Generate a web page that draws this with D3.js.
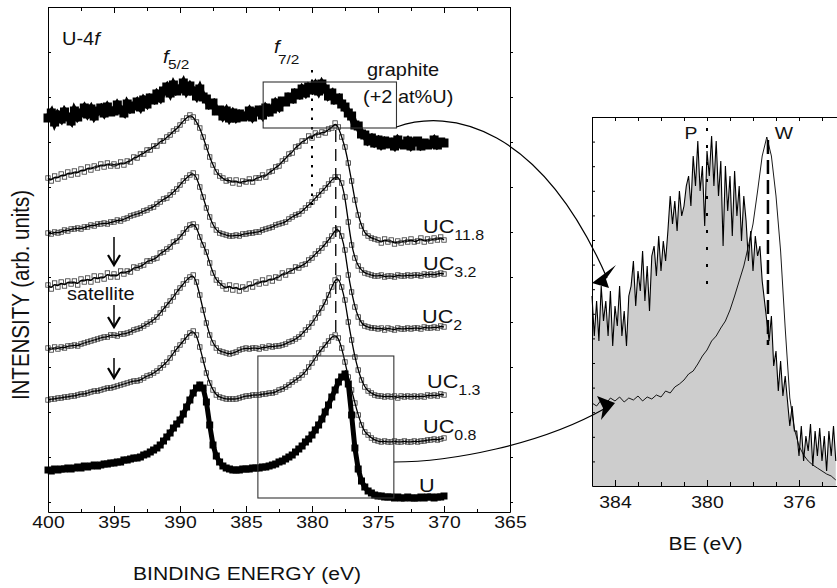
<!DOCTYPE html>
<html>
<head>
<meta charset="utf-8">
<title>U-4f spectra</title>
<script src="https://cdn.jsdelivr.net/npm/d3@7"></script>
<style>
    body { margin: 0; background: #ffffff; }
    svg { display: block; font-family: "Liberation Sans", Arial, sans-serif; }
</style>
</head>
<body>
<svg id="chart" width="837" height="588"></svg>
<script>
// Data //
// main panel: binding energy 400 -> 370 eV, one point every 0.25 eV
const energy = d3.range(121).map(i => 400 - i * 0.25)

// intensities in arb. units (stack offsets included), four points per eV
const graphite = [
    394,399,390,397, 393,400,395,391, 401,395,399,404, 398,403,396,401, 404,399,405,400,
    401,407,402,399, 408,403,406,410, 405,412,408,414, 412,418,414,421, 425,419,427,421,
    423,429,421,426, 421,416,423,415, 413,407,409,401, 402,396,401,394, 399,394,398,395,
    396,401,395,400, 402,397,404,400, 403,409,405,411, 410,415,413,419, 417,423,419,425,
    422,427,421,428, 423,416,419,412, 414,408,405,399, 396,387,386,378, 377,371,374,369,
    372,367,371,368, 370,366,372,368, 367,371,366,370, 371,366,369,367, 368,372,367,370,
    369]

const uc118 = [
    334,331,336,333, 338,335,340,337, 341,338,343,340, 345,342,346,344, 348,345,349,346,
    348,346,350,347, 351,350,355,354, 358,358,362,362, 366,366,371,371, 375,377,381,383,
    387,391,394,397, 395,390,384,375, 365,355,347,340, 336,334,331,332, 329,332,328,331,
    330,333,330,334, 334,337,335,340, 341,345,346,351, 353,358,359,365, 366,371,371,376,
    374,379,377,380, 379,383,384,389, 385,375,365,349, 331,312,297,286, 279,276,274,273,
    272,269,273,270, 272,268,271,269, 272,270,273,270, 271,274,270,273, 271,274,272,275,
    272]

const uc32 = [
    279,278,280,279, 280,282,281,283, 283,284,283,285, 285,287,286,288, 288,289,288,290,
    290,292,291,293, 294,296,297,298, 299,301,302,304, 305,308,310,313, 314,317,320,323,
    327,331,334,337, 339,335,325,315, 304,295,287,282, 279,278,277,276, 276,277,276,278,
    278,279,279,280, 280,282,283,284, 285,287,288,289, 290,293,295,297, 298,301,304,307,
    310,314,317,321, 324,328,332,335, 335,329,315,290, 267,254,246,242, 239,238,237,236,
    236,237,235,236, 236,235,237,236, 236,237,236,237, 237,236,238,237, 238,237,238,239,
    238]

const uc2 = [
    227,223,229,225, 230,226,231,228, 231,227,233,230, 234,230,236,232, 236,233,239,235,
    238,235,241,238, 241,240,245,244, 246,247,251,251, 253,254,259,260, 263,265,270,271,
    275,279,283,287, 288,285,275,267, 260,249,239,232, 229,226,223,227, 222,226,221,225,
    223,228,225,230, 228,232,229,234, 231,235,234,239, 237,241,241,245, 244,247,248,252,
    254,258,261,264, 268,272,276,282, 283,276,262,237, 220,205,195,189, 186,185,184,184,
    183,184,182,184, 183,182,184,183, 183,184,183,184, 184,183,185,184, 184,185,184,186,
    185]

const uc13 = [
    164,162,165,163, 165,164,166,166, 167,166,168,169, 170,171,172,173, 174,175,175,177,
    177,176,178,178, 179,180,182,183, 184,186,188,190, 192,195,199,203, 207,211,215,220,
    224,228,232,235, 237,230,217,202, 189,177,169,164, 161,160,159,158, 159,160,162,163,
    164,163,164,164, 163,165,164,166, 165,166,166,167, 168,170,171,173, 175,178,182,185,
    189,194,199,204, 210,217,225,232, 234,225,212,190, 172,155,142,132, 125,121,119,117,
    116,116,115,116, 115,116,114,116, 115,116,115,116, 115,116,115,117, 116,117,116,118,
    117]

const uc08 = [
    112,113,113,114, 114,115,115,116, 116,117,118,118, 119,120,121,121, 122,123,124,124,
    125,126,127,128, 129,130,131,131, 132,134,136,137, 139,141,144,147, 150,154,159,163,
    167,171,175,179, 181,177,165,152, 139,129,122,117, 115,114,113,113, 113,113,114,115,
    116,116,117,117, 117,118,118,119, 119,120,122,123, 125,127,130,132, 134,137,140,145,
    149,154,159,163, 167,171,175,177, 174,164,150,135, 122,109,97,87, 80,77,74,72,
    71,70,71,70, 70,71,70,70, 71,70,70,71, 70,71,71,72, 72,73,72,73,
    74]

const uMetal = [
    42,41,43,42, 43,43,44,43, 44,45,44,46, 45,46,47,46, 47,48,48,49,
    49,50,50,52, 52,53,54,54, 55,57,58,60, 62,64,67,71, 75,79,84,88,
    92,98,105,112, 119,124,127,124, 110,87,67,56, 50,46,44,43, 42,42,42,43,
    43,43,44,44, 44,45,45,46, 47,48,50,51, 53,55,57,60, 63,66,70,73,
    77,82,87,93, 100,107,115,122, 130,135,138,128, 97,64,43,31, 25,21,19,17,
    16,16,15,15, 15,14,15,14, 14,15,14,14, 14,15,14,15, 15,14,15,15,
    16]

// inset: graphite (+2 at%U) against U metal
const insetEnergy = d3.range(107).map(i => 385 - i * 0.1)
const insetGraphite = [
    190,150,185,145,200,165,185,150,195,140,180,160,200,150,175,140,190,
    200,225,180,215,195,235,185,220,175,230,
    240,210,250,215,245,225,255,
    290,262,285,255,295,270,280,300,
    310,280,330,300,345,295,320,260,
    335,310,350,300,345,290,325,240,
    320,275,310,250,315,270,300,245,290,
    265,225,255,215,250,230,240,
    205,185,165,145,170,
    120,135,95,125,90,110,
    85,60,80,55,
    55,30,60,25,50,35,62,20,55,30,58,25,50,15,55,30,60,25]

const insetMetalEnergy = d3.range(54).map(i => 385 - i * 0.2)
const insetMetal = [
    83,80,86,82,88,85, 89,84,88,86,90, 85,89,87,91,89, 95,93,99,102,106,
    112,115,122,130,136, 145,150,158,165,176, 190,205,220,240,262,
    295,330,349,330,290, 235,158,88,57,40, 31,25,21,18,15, 12,10,6]

const mainTicks = [400, 395, 390, 385, 380, 375, 370, 365]
const mainMinor = [397.5, 392.5, 387.5, 382.5, 377.5, 372.5, 367.5]
const insetTicks = [384, 380, 376]
const insetMinor = [385, 383, 382, 381, 379, 378, 377, 375]

const labelNames = ["UC", "UC", "UC", "UC", "UC", "U"]
const labelSubs = ["11.8", "3.2", "2", "1.3", "0.8", ""]


// Setup //
const svg = d3.select("#chart")
const stretch = 1.14   // lettering in the figure is slightly wide

const x = d3.scaleLinear().domain([400, 365]).range([48, 510])
const y = d3.scaleLinear().domain([0, 505]).range([512, 7])

const xi = d3.scaleLinear().domain([385, 374]).range([592, 845])
const yi = d3.scaleLinear().domain([0, 369]).range([486, 117])

function label(px, py, size) {
    return svg.append("text")
        .attr("transform", "translate(" + px + "," + py + ") scale(" + stretch + ",1)")
        .attr("font-size", size)
        .attr("fill", "#111")
}

function styleAxis(g, size) {
    g.attr("font-family", null).attr("font-size", size)
    g.selectAll("path, line").attr("stroke", "#000").attr("stroke-width", 1)
    g.selectAll("text").attr("fill", "#111").attr("transform", "scale(" + stretch + ",1)")
}


// Inset //
const insetG = svg.append("g")

insetG.append("path")
    .datum(insetGraphite)
    .attr("fill", "#cdcdcd")
    .attr("d", d3.area()
        .x((d, i) => xi(insetEnergy[i]))
        .y0(yi(0))
        .y1(d => yi(d)))

insetG.append("path")
    .datum(insetGraphite)
    .attr("fill", "none")
    .attr("stroke", "#000")
    .attr("stroke-width", 1.1)
    .attr("d", d3.line()
        .x((d, i) => xi(insetEnergy[i]))
        .y(d => yi(d)))

insetG.append("path")
    .datum(insetMetal)
    .attr("fill", "none")
    .attr("stroke", "#000")
    .attr("stroke-width", 0.9)
    .attr("d", d3.line()
        .x((d, i) => xi(insetMetalEnergy[i]))
        .y(d => yi(d)))

// P and W markers
insetG.append("line")
    .attr("x1", xi(380)).attr("x2", xi(380))
    .attr("y1", yi(358)).attr("y2", yi(199))
    .attr("stroke", "#000").attr("stroke-width", 2)
    .attr("stroke-dasharray", "3,14")

insetG.append("line")
    .attr("x1", xi(377.35)).attr("x2", xi(377.35))
    .attr("y1", yi(346)).attr("y2", yi(141))
    .attr("stroke", "#000").attr("stroke-width", 2.5)
    .attr("stroke-dasharray", "14,6")

label(691, 139, 17).attr("text-anchor", "middle").text("P")
label(784, 139, 17).attr("text-anchor", "middle").text("W")

var ib = svg.append("g").attr("transform", "translate(0," + yi(0) + ")")
    .call(d3.axisBottom(xi).tickValues(insetTicks).tickSizeInner(-6).tickSizeOuter(0).tickPadding(10))
styleAxis(ib, 17)
var ibm = svg.append("g").attr("transform", "translate(0," + yi(0) + ")")
    .call(d3.axisBottom(xi).tickValues(insetMinor).tickSizeInner(-4).tickSizeOuter(0).tickFormat(""))
styleAxis(ibm, 17)
ibm.select(".domain").remove()

var it = svg.append("g").attr("transform", "translate(0," + yi(369) + ")")
    .call(d3.axisTop(xi).tickValues(insetTicks.concat(insetMinor)).tickSizeInner(-4).tickSizeOuter(0).tickFormat(""))
styleAxis(it, 17)

var il = svg.append("g").attr("transform", "translate(" + xi(385) + ",0)")
    .call(d3.axisLeft(yi).tickValues(d3.range(24.6, 369, 24.6)).tickSizeInner(-3).tickSizeOuter(0).tickFormat(""))
styleAxis(il, 17)

label(705.5, 550, 18.5).attr("text-anchor", "middle").text("BE (eV)")


// Main panel spectra //
const lineMain = d3.line()
    .x((d, i) => x(energy[i]))
    .y(d => y(d))
    .curve(d3.curveBasis)

const lineRaw = d3.line()
    .x((d, i) => x(energy[i]))
    .y(d => y(d))

function filledSquares(values, size) {
    var g = svg.append("g")
    // dense raw points read as a continuous band
    g.append("path")
        .datum(values)
        .attr("fill", "none")
        .attr("stroke", "#000")
        .attr("stroke-width", size - 2)
        .attr("d", lineRaw)
    g.selectAll("rect")
        .data(values)
        .enter()
        .append("rect")
        .attr("x", (d, i) => x(energy[i]) - size / 2)
        .attr("y", d => y(d) - size / 2)
        .attr("width", size)
        .attr("height", size)
        .attr("fill", "#000")
}

function fittedSpectrum(values) {
    var g = svg.append("g")
    g.selectAll("rect")
        .data(values)
        .enter()
        .append("rect")
        .attr("x", (d, i) => x(energy[i]) - 2.2)
        .attr("y", d => y(d) - 2.2)
        .attr("width", 4.4)
        .attr("height", 4.4)
        .attr("fill", "none")
        .attr("stroke", "#333")
        .attr("stroke-width", 0.8)
    g.append("path")
        .datum(values)
        .attr("fill", "none")
        .attr("stroke", "#000")
        .attr("stroke-width", 1.3)
        .attr("d", lineMain)
}

filledSquares(graphite, 9)
fittedSpectrum(uc118)
fittedSpectrum(uc32)
fittedSpectrum(uc2)
fittedSpectrum(uc13)
fittedSpectrum(uc08)
filledSquares(uMetal, 7)

// peak markers
svg.append("line")
    .attr("x1", x(380)).attr("x2", x(380))
    .attr("y1", y(442)).attr("y2", y(307))
    .attr("stroke", "#000").attr("stroke-width", 2)
    .attr("stroke-dasharray", "2.5,7")

svg.append("line")
    .attr("x1", x(378.2)).attr("x2", x(378.2))
    .attr("y1", y(382)).attr("y2", y(177))
    .attr("stroke", "#000").attr("stroke-width", 1.3)
    .attr("stroke-dasharray", "12,7")

// zoom boxes
const boxes = [[383.7, 373.6, 430, 384], [384.1, 373.8, 156, 14]]
boxes.forEach(b => {
    svg.append("rect")
        .attr("x", x(b[0])).attr("y", y(b[2]))
        .attr("width", x(b[1]) - x(b[0]))
        .attr("height", y(b[3]) - y(b[2]))
        .attr("fill", "none")
        .attr("stroke", "#333")
        .attr("stroke-width", 1.1)
})

// connectors to the inset
svg.append("path")
    .attr("d", "M" + x(373.6) + "," + y(385) + " C450,108 540,125 607,278")
    .attr("fill", "none").attr("stroke", "#000").attr("stroke-width", 1.2)
svg.append("path")
    .attr("d", "M592,283 L616,265 L606,279 L609,288 Z")
    .attr("fill", "#000")

svg.append("path")
    .attr("d", "M" + x(373.8) + "," + y(50) + " C450,462 540,445 604,409")
    .attr("fill", "none").attr("stroke", "#000").attr("stroke-width", 1.2)
svg.append("path")
    .attr("d", "M615,403 L597,396 L603,408 L601,420 Z")
    .attr("fill", "#000")

// satellite arrows
const satArrows = [[275, 247], [207, 185], [154, 134]]
satArrows.forEach(a => {
    var ax = x(395)
    svg.append("line")
        .attr("x1", ax).attr("x2", ax)
        .attr("y1", y(a[0])).attr("y2", y(a[1]))
        .attr("stroke", "#000").attr("stroke-width", 1.5)
    svg.append("polyline")
        .attr("points", (ax - 6) + "," + (y(a[1]) - 10) + " " + ax + "," + y(a[1]) + " " + (ax + 6) + "," + (y(a[1]) - 10))
        .attr("fill", "none").attr("stroke", "#000").attr("stroke-width", 2.2)
})


// Main axes //
var gb = svg.append("g").attr("transform", "translate(0,512)")
    .call(d3.axisBottom(x).tickValues(mainTicks).tickSizeInner(-6).tickSizeOuter(0).tickPadding(4))
styleAxis(gb, 17)
var gbm = svg.append("g").attr("transform", "translate(0,512)")
    .call(d3.axisBottom(x).tickValues(mainMinor).tickSizeInner(-3).tickSizeOuter(0).tickFormat(""))
styleAxis(gbm, 17)
gbm.select(".domain").remove()

var gt = svg.append("g").attr("transform", "translate(0,7)")
    .call(d3.axisTop(x).tickValues(mainTicks).tickSizeInner(-6).tickSizeOuter(0).tickFormat(""))
styleAxis(gt, 17)
var gtm = svg.append("g").attr("transform", "translate(0,7)")
    .call(d3.axisTop(x).tickValues(mainMinor).tickSizeInner(-4).tickSizeOuter(0).tickFormat(""))
styleAxis(gtm, 17)
gtm.select(".domain").remove()

const yTicks = d3.range(10, 505, 45)
var gl = svg.append("g").attr("transform", "translate(48,0)")
    .call(d3.axisLeft(y).tickValues(yTicks).tickSizeInner(-3).tickSizeOuter(0).tickFormat(""))
styleAxis(gl, 17)
var gr = svg.append("g").attr("transform", "translate(510,0)")
    .call(d3.axisRight(y).tickValues(yTicks).tickSizeInner(3).tickSizeOuter(0).tickFormat(""))
styleAxis(gr, 17)

label(247, 580, 18.5).attr("text-anchor", "middle").text("BINDING ENERGY (eV)")

svg.append("text")
    .attr("transform", "translate(29,295) rotate(-90) scale(1," + stretch + ")")
    .attr("font-size", 20.5)
    .attr("text-anchor", "middle")
    .attr("fill", "#111")
    .text("INTENSITY (arb. units)")


// Annotations //
var t = label(62, 45, 17.5)
t.append("tspan").text("U-4")
t.append("tspan").attr("font-style", "italic").text("f")

label(163, 63, 18).attr("font-style", "italic").text("f")
label(168, 69, 13.5).text("5/2")
label(274, 53, 18).attr("font-style", "italic").text("f")
label(278, 64, 13.5).text("7/2")

label(367, 76, 17.5).text("graphite")
label(363, 103, 17.5).text("(+2 at%U)")
label(67, 300, 17.5).text("satellite")

const labelPos = [[423, 233], [423, 270], [422, 323], [427, 388], [423, 433], [419, 492]]
labelNames.forEach((n, i) => {
    var lt = label(labelPos[i][0], labelPos[i][1], 19)
    lt.append("tspan").text(n)
    if (labelSubs[i]) {
        lt.append("tspan").attr("font-size", 14).attr("dy", 7).text(labelSubs[i])
    }
})
</script>
</body>
</html>
